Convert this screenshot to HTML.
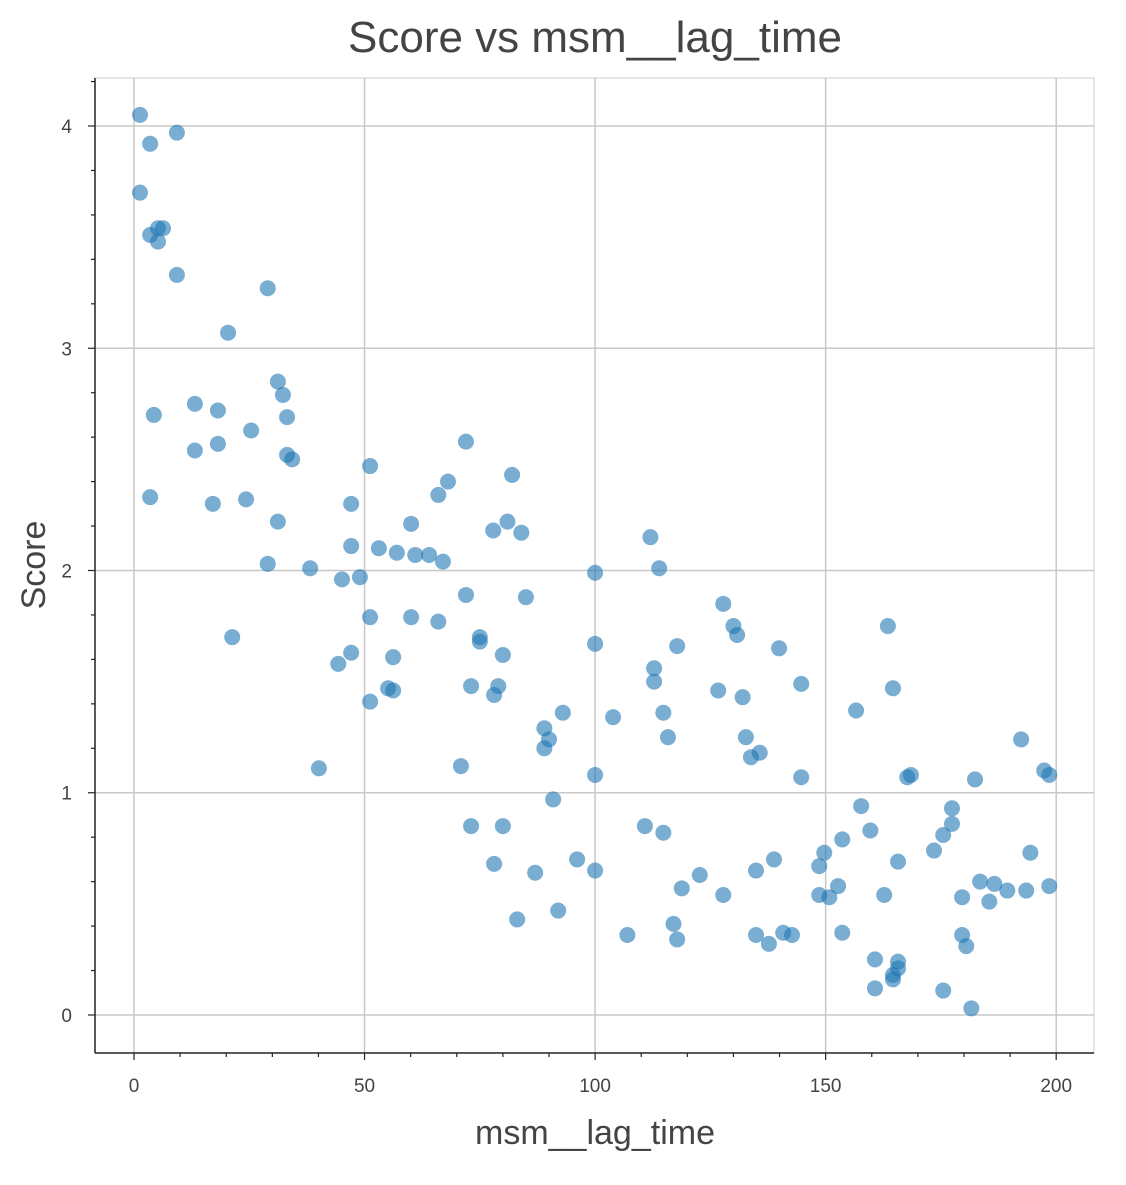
<!DOCTYPE html>
<html><head><meta charset="utf-8"><style>
body{margin:0;background:#fff;}
svg text{font-family:"Liberation Sans",Helvetica,Arial,sans-serif;}
</style></head><body>
<svg id="chart" width="1126" height="1180" xmlns="http://www.w3.org/2000/svg">
<text x="595" y="52" text-anchor="middle" font-size="44" fill="#444">Score vs msm__lag_time</text>
<text x="595" y="1144" text-anchor="middle" font-size="34" fill="#444">msm__lag_time</text>
<text transform="translate(45,565) rotate(-90)" text-anchor="middle" font-size="34" fill="#444">Score</text>
<g id="grid"></g><g id="axes"></g><g id="points"></g>
</svg>
<script>
const lagTimes=[1.3,3.5,9.3,1.3,3.5,5.2,6.3,5.2,9.3,29,20.4,31.2,32.3,4.3,13.2,18.2,33.2,25.4,18.2,13.2,33.2,34.3,3.5,17.1,24.3,31.2,29,21.3,38.2,40.1,45.1,49,47.1,47.1,51.2,53.1,57,60.1,61,64,67,66,68.1,72,72,82,77.9,81,84,85,51.2,60.1,66,75,75,80,44.3,47.1,56.2,55.1,56.2,51.2,73.1,79,78.1,70.9,73.1,80,78.1,83.1,87,89,90,89,93,90.9,92,96.1,100,100,100,100,103.9,107,112,113.9,112.8,112.8,114.8,115.8,117.8,110.8,114.8,118.8,122.7,117,117.8,126.7,127.8,130,130.8,132,132.7,133.8,135.7,127.8,134.9,134.9,137.7,138.8,140.8,142.7,139.9,144.7,144.7,148.6,149.7,148.6,150.8,152.7,153.6,153.6,156.6,157.7,159.7,160.7,160.7,162.7,163.5,164.6,164.6,164.6,165.7,165.7,165.7,167.7,168.5,173.5,175.5,175.5,177.4,177.4,179.6,179.6,180.5,181.6,182.4,183.5,185.5,186.6,189.4,192.4,193.5,194.4,197.4,198.5,198.5];
const scores=[4.05,3.92,3.97,3.70,3.51,3.54,3.54,3.48,3.33,3.27,3.07,2.85,2.79,2.70,2.75,2.72,2.69,2.63,2.57,2.54,2.52,2.50,2.33,2.30,2.32,2.22,2.03,1.70,2.01,1.11,1.96,1.97,2.11,2.30,2.47,2.10,2.08,2.21,2.07,2.07,2.04,2.34,2.40,2.58,1.89,2.43,2.18,2.22,2.17,1.88,1.79,1.79,1.77,1.70,1.68,1.62,1.58,1.63,1.61,1.47,1.46,1.41,1.48,1.48,1.44,1.12,0.85,0.85,0.68,0.43,0.64,1.29,1.24,1.20,1.36,0.97,0.47,0.70,1.99,1.67,1.08,0.65,1.34,0.36,2.15,2.01,1.56,1.50,1.36,1.25,1.66,0.85,0.82,0.57,0.63,0.41,0.34,1.46,1.85,1.75,1.71,1.43,1.25,1.16,1.18,0.54,0.65,0.36,0.32,0.70,0.37,0.36,1.65,1.49,1.07,0.67,0.73,0.54,0.53,0.58,0.79,0.37,1.37,0.94,0.83,0.25,0.12,0.54,1.75,1.47,0.18,0.16,0.24,0.21,0.69,1.07,1.08,0.74,0.81,0.11,0.93,0.86,0.53,0.36,0.31,0.03,1.06,0.60,0.51,0.59,0.56,1.24,0.56,0.73,1.10,1.08,0.58];
const xTicks=[0,50,100,150,200];
const yTicks=[0,1,2,3,4];
const NS='http://www.w3.org/2000/svg';
const L=95,R=1094,T=78,B=1053;
const xMin=-8.46,xMax=208.2,yMin=-0.171,yMax=4.216;
const sx=v=>L+(v-xMin)/(xMax-xMin)*(R-L);
const sy=v=>B-(v-yMin)/(yMax-yMin)*(B-T);
function mk(tag,attrs,parent){const e=document.createElementNS(NS,tag);for(const k in attrs)e.setAttribute(k,attrs[k]);parent.appendChild(e);return e;}
const grid=document.getElementById('grid'),axes=document.getElementById('axes'),pts=document.getElementById('points');
mk('rect',{x:L,y:T,width:R-L,height:B-T,fill:'none',stroke:'#ccc','stroke-width':1},grid);
xTicks.forEach(t=>{const l=mk('line',{x1:sx(t),x2:sx(t),y1:T,y2:B,stroke:'#c8c8c8','stroke-width':1.5},grid);

});
yTicks.forEach(t=>{const l=mk('line',{x1:L,x2:R,y1:sy(t),y2:sy(t),stroke:'#c8c8c8','stroke-width':1.5},grid);

});
mk('line',{x1:L,x2:L,y1:T,y2:B,stroke:'#222','stroke-width':1.5},axes);
mk('line',{x1:L,x2:R,y1:B,y2:B,stroke:'#222','stroke-width':1.5},axes);
for(let v=0;v<=200;v+=10){const maj=v%50===0;mk('line',{x1:sx(v),x2:sx(v),y1:B,y2:B+(maj?7:4),stroke:'#222','stroke-width':1.2},axes);}
for(let i=0;i<=21;i++){const v=i*0.2;const maj=i%5===0;mk('line',{x1:L,x2:L-(maj?7:4),y1:sy(v),y2:sy(v),stroke:'#222','stroke-width':1.2},axes);}
xTicks.forEach(t=>{const e=mk('text',{x:sx(t),y:B+39,'text-anchor':'middle','font-size':19,fill:'#444'},axes);e.textContent=t;

});
yTicks.forEach(t=>{const e=mk('text',{x:L-23,y:sy(t)+7,'text-anchor':'end','font-size':19,fill:'#444'},axes);e.textContent=t;

});
lagTimes.forEach((x,i)=>{const c=mk('circle',{cx:sx(x),cy:sy(scores[i]),r:8,fill:'#1f77b4','fill-opacity':0.6},pts);

});
</script>
</body></html>
